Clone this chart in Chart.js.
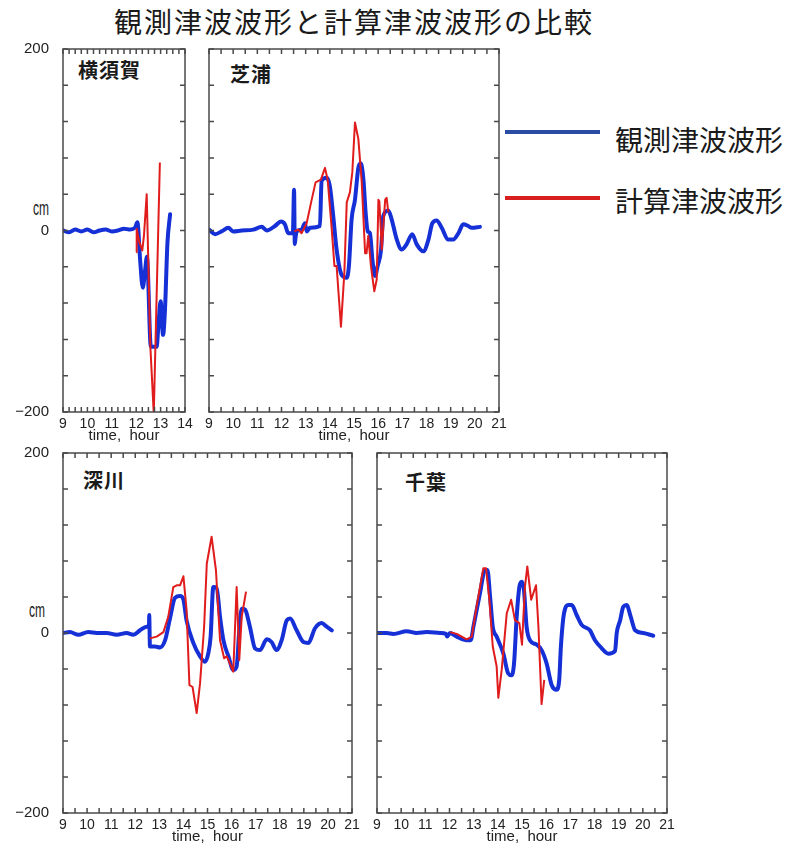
<!DOCTYPE html>
<html><head><meta charset="utf-8">
<script src="https://cdn.jsdelivr.net/npm/chart.js@4.4.0/dist/chart.umd.min.js"></script>
<style>
body{margin:0;background:#fff;width:797px;height:847px;position:relative;overflow:hidden;font-family:"Noto Sans CJK JP",sans-serif;}
canvas{position:absolute;}
.t{position:absolute;white-space:nowrap;color:#1a1a1a;line-height:1;}
.cm{position:absolute;font-family:"Liberation Sans",Arial,sans-serif;font-size:20px;line-height:1;color:#1a1a1a;transform:scaleX(0.6);transform-origin:0 0;}
.lg{position:absolute;height:4px;width:95px;left:505px;}
</style></head><body>
<div class="t" style="left:114px;top:7px;font-size:28px;letter-spacing:2px;">観測津波波形と計算津波波形の比較</div>
<div class="t" style="left:78px;top:60px;font-size:20px;font-weight:bold;letter-spacing:1px;">横須賀</div>
<div class="t" style="left:230px;top:64px;font-size:20px;font-weight:bold;letter-spacing:1px;">芝浦</div>
<div class="t" style="left:83px;top:470px;font-size:20px;font-weight:bold;letter-spacing:1px;">深川</div>
<div class="t" style="left:405px;top:472px;font-size:20px;font-weight:bold;letter-spacing:1px;">千葉</div>
<div class="cm" style="left:33px;top:198px;">cm</div>
<div class="cm" style="left:29px;top:600px;">cm</div>
<div class="lg" style="top:130px;background:#2b4ca3;"></div>
<div class="lg" style="top:196px;background:#d81f1f;"></div>
<div class="t" style="left:615px;top:125px;font-size:28px;">観測津波波形</div>
<div class="t" style="left:615px;top:186px;font-size:28px;">計算津波波形</div>
<script>
// ---- tick labels ----
const xTicksShort = [9, 10, 11, 12, 13, 14];
const xTicksLong = [9, 10, 11, 12, 13, 14, 15, 16, 17, 18, 19, 20, 21];
const yTickLabels = [-200, 0, 200];

// ---- 横須賀 ----
const yokosukaObsT = [9.0, 9.25, 9.5, 9.75, 10.0, 10.25, 10.5, 10.75, 11.0, 11.25,
  11.5, 11.75, 11.95, 12.05, 12.16, 12.27, 12.36, 12.44, 12.6, 12.84,
  12.9, 13.0, 13.1, 13.18, 13.28, 13.39];
const yokosukaObsV = [0, -2, 1, -1, 1, -2, 0, 1, -1, 0,
  2, 1, 3, 9, -32, -63, -45, -29, -128, -128,
  -109, -78, -115, -87, -14, 18];
const yokosukaCalT = [12.0, 12.02, 12.12, 12.25, 12.32, 12.43, 12.58, 12.72, 12.97];
const yokosukaCalV = [-24, 2, -12, -22, -5, 40, -128, -202, 75];

// ---- 芝浦 ----
const shibauraObsT = [9.0, 9.25, 9.52, 9.8, 10.0, 10.35, 10.83, 11.18, 11.39, 11.73,
  11.98, 12.14, 12.28, 12.47, 12.52, 12.55, 12.58, 12.63, 12.83, 12.97,
  13.04, 13.18, 13.59, 13.66, 13.87, 14.0, 14.14, 14.28, 14.49, 14.7,
  14.79, 14.9, 15.04, 15.18, 15.28, 15.39, 15.48, 15.57, 15.66, 15.76,
  15.87, 15.98, 16.12, 16.21, 16.42, 16.56, 16.77, 16.97, 17.18, 17.41,
  17.59, 17.87, 18.08, 18.24, 18.42, 18.63, 18.9, 19.11, 19.32, 19.52,
  19.73, 19.87, 20.21];
const shibauraObsV = [1, -4, -1, 3, -1, 0, 1, 4, 0, 5,
  10, 7, -3, -3, 45, -15, -8, -1, 1, 8,
  -1, 3, 5, 55, 58, 49, 16, -21, -49, -52,
  -39, 12, 34, 69, 74, 56, 20, -1, -3, -32,
  -50, -39, -21, 16, 22, 12, -10, -21, -15, -4,
  -15, -23, -10, 8, 11, 3, -10, -10, -3, 7,
  5, 3, 4];
const shibauraCalT = [12.53, 12.7, 12.83, 13.04, 13.25, 13.41, 13.63, 13.8, 13.91, 14.08,
  14.19, 14.28, 14.38, 14.46, 14.6, 14.7, 14.83, 14.93, 15.04, 15.18,
  15.32, 15.46, 15.52, 15.59, 15.7, 15.84, 15.94, 16.01, 16.05, 16.15,
  16.29, 16.35, 16.42];
const shibauraCalV = [-1, 1, -3, 8, 34, 53, 56, 69, 56, 1,
  -39, -39, -76, -106, -47, 31, 42, 64, 119, 101,
  53, -25, -25, -6, -39, -67, -54, 34, 32, -21,
  34, 36, 20];

// ---- 深川 ----
const fukagawaObsT = [9.0, 9.29, 9.64, 10.05, 10.4, 10.81, 11.23, 11.64, 11.92, 12.2,
  12.47, 12.57, 12.58, 12.61, 12.82, 13.03, 13.24, 13.44, 13.65, 13.86,
  14.0, 14.13, 14.41, 14.69, 14.9, 15.03, 15.13, 15.24, 15.38, 15.52,
  15.66, 15.87, 16.07, 16.21, 16.32, 16.42, 16.56, 16.76, 16.97, 17.18,
  17.46, 17.66, 17.87, 18.08, 18.29, 18.43, 18.7, 18.98, 19.19, 19.46,
  19.74, 19.95, 20.16];
const fukagawaObsV = [0, 1, -2, 1, 0, 0, -2, 0, -2, 3,
  7, 7, 20, -15, -15, -16, -8, 16, 39, 41,
  37, 14, -11, -26, -32, -23, -4, 51, 50, 18,
  -8, -26, -41, -37, 3, 27, 26, 7, -17, -19,
  -7, -10, -19, -8, 14, 16, 3, -10, -11, 5,
  11, 7, 3];
const fukagawaCalT = [12.61, 12.89, 13.17, 13.37, 13.58, 13.72, 13.86, 14.0, 14.13, 14.25,
  14.38, 14.55, 14.69, 14.86, 14.97, 15.17, 15.35, 15.52, 15.69, 15.8,
  15.93, 16.07, 16.21, 16.32, 16.42, 16.6];
const fukagawaCalV = [-6, -4, 1, 18, 51, 53, 53, 63, 26, -58,
  -60, -89, -56, 7, 77, 107, 70, -8, -28, -26,
  -34, -43, 51, -30, 18, 46];

// ---- 千葉 ----
const chibaObsT = [9.0, 9.4, 9.68, 10.23, 10.64, 11.06, 11.61, 11.85, 11.9, 12.02,
  12.3, 12.71, 12.88, 12.99, 13.26, 13.47, 13.57, 13.68, 13.79, 13.95,
  14.23, 14.43, 14.57, 14.67, 14.78, 14.89, 14.99, 15.08, 15.19, 15.33,
  15.61, 15.81, 16.02, 16.23, 16.43, 16.54, 16.61, 16.74, 16.92, 17.06,
  17.26, 17.47, 17.81, 18.02, 18.3, 18.57, 18.85, 18.92, 19.06, 19.19,
  19.33, 19.5, 19.68, 20.02, 20.43];
const chibaObsV = [0, 0, -1, 2, 0, 1, 0, -1, -4, 0,
  -4, -8, -8, 7, 44, 70, 70, 40, 7, -4,
  -23, -45, -47, -34, 18, 51, 57, 48, 7, -8,
  -13, -19, -34, -58, -63, -52, -15, 22, 31, 31,
  20, 9, 3, -8, -17, -23, -20, 0, 14, 29,
  31, 18, 3, 0, -3];
const chibaCalT = [12.02, 12.3, 12.71, 12.92, 13.12, 13.4, 13.51, 13.65, 13.79, 13.95,
  14.02, 14.16, 14.37, 14.55, 14.71, 14.89, 15.0, 15.12, 15.22, 15.38,
  15.58, 15.68, 15.81, 15.92];
const chibaCalV = [1, -1, -7, -4, 29, 72, 72, 37, -15, -37,
  -72, -41, 22, 37, 14, 11, -13, 51, 74, 37,
  53, 7, -79, -52];

const BLUE = '#1530d6';
const RED = '#e01c1c';

const framePlugin = {
  id: 'frame',
  afterDatasetsDraw(chart, args, opts) {
    const {ctx, chartArea: a, scales: {x, y}} = chart;
    ctx.save();
    ctx.strokeStyle = '#4a4a4a';
    ctx.lineWidth = 1.5;
    ctx.strokeRect(a.left, a.top, a.right - a.left, a.bottom - a.top);
    const L = 5;
    ctx.beginPath();
    const n = Math.round((x.max - x.min) / opts.xStep);
    for (let i = 0; i <= n; i++) {
      const px = x.getPixelForValue(x.min + i * opts.xStep);
      ctx.moveTo(px, a.bottom); ctx.lineTo(px, a.bottom - L);
      ctx.moveTo(px, a.top); ctx.lineTo(px, a.top + L);
    }
    for (let v = -200; v <= 200; v += 40) {
      const py = y.getPixelForValue(v);
      ctx.moveTo(a.left, py); ctx.lineTo(a.left + L, py);
      ctx.moveTo(a.right, py); ctx.lineTo(a.right - L, py);
    }
    ctx.stroke();
    ctx.restore();
  }
};

function pts(T, V) { return T.map((t, i) => ({x: t, y: V[i]})); }

function makePanel(frame, yw, xTicks, xStep, showY, obsT, obsV, calT, calV) {
  const padTop = 10, padRight = 16, xh = 34;
  const w = (frame.r - frame.l) + yw + padRight;
  const h = (frame.b - frame.t) + padTop + xh;
  const c = document.createElement('canvas');
  c.width = w; c.height = h;
  c.style.left = (frame.l - yw) + 'px';
  c.style.top = (frame.t - padTop) + 'px';
  c.style.width = w + 'px'; c.style.height = h + 'px';
  document.body.appendChild(c);
  const tickFont = {family: 'Liberation Sans', size: 14};
  new Chart(c, {
    type: 'line',
    data: {datasets: [
      {label: '計算津波波形', data: pts(calT, calV), borderColor: RED, borderWidth: 2, pointRadius: 0, tension: 0, fill: false, borderJoinStyle: 'round'},
      {label: '観測津波波形', data: pts(obsT, obsV), borderColor: BLUE, borderWidth: 4, pointRadius: 0, cubicInterpolationMode: 'monotone', fill: false, borderJoinStyle: 'round', borderCapStyle: 'round'}
    ]},
    options: {
      responsive: false, animation: false, devicePixelRatio: 1,
      layout: {padding: {top: padTop, right: padRight, left: 0, bottom: 0}},
      plugins: {legend: {display: false}, tooltip: {enabled: false}, frame: {xStep: xStep}},
      scales: {
        x: {
          type: 'linear', min: xTicks[0], max: xTicks[xTicks.length - 1],
          grid: {display: false, drawTicks: false}, border: {display: false},
          afterBuildTicks: s => { s.ticks = xTicks.map(v => ({value: v})); },
          ticks: {font: tickFont, color: '#222', padding: 4, autoSkip: false, maxRotation: 0},
          title: {display: true, text: 'time,  hour', font: {family: 'Liberation Sans', size: 15}, color: '#222', padding: {top: 0, bottom: 1.5}},
          afterFit: s => { s.height = xh; }
        },
        y: {
          type: 'linear', min: -200, max: 200,
          grid: {display: false, drawTicks: true, tickLength: 14}, border: {display: false},
          afterBuildTicks: s => { s.ticks = yTickLabels.map(v => ({value: v})); },
          ticks: {display: showY, font: {family: 'Liberation Sans', size: 15}, color: '#222', padding: 0,
            callback: v => v < 0 ? '\u2212' + Math.abs(v) : String(v)},
          afterFit: s => { s.width = yw; }
        }
      }
    },
    plugins: [framePlugin]
  });
}

makePanel({l: 63, t: 49, r: 185, b: 412}, 60, xTicksShort, 0.25, true, yokosukaObsT, yokosukaObsV, yokosukaCalT, yokosukaCalV);
makePanel({l: 209, t: 49, r: 499, b: 412}, 12, xTicksLong, 0.5, false, shibauraObsT, shibauraObsV, shibauraCalT, shibauraCalV);
makePanel({l: 63, t: 453, r: 352, b: 813}, 60, xTicksLong, 0.5, true, fukagawaObsT, fukagawaObsV, fukagawaCalT, fukagawaCalV);
makePanel({l: 377, t: 453, r: 667, b: 813}, 12, xTicksLong, 0.5, false, chibaObsT, chibaObsV, chibaCalT, chibaCalV);
</script>
</body></html>
